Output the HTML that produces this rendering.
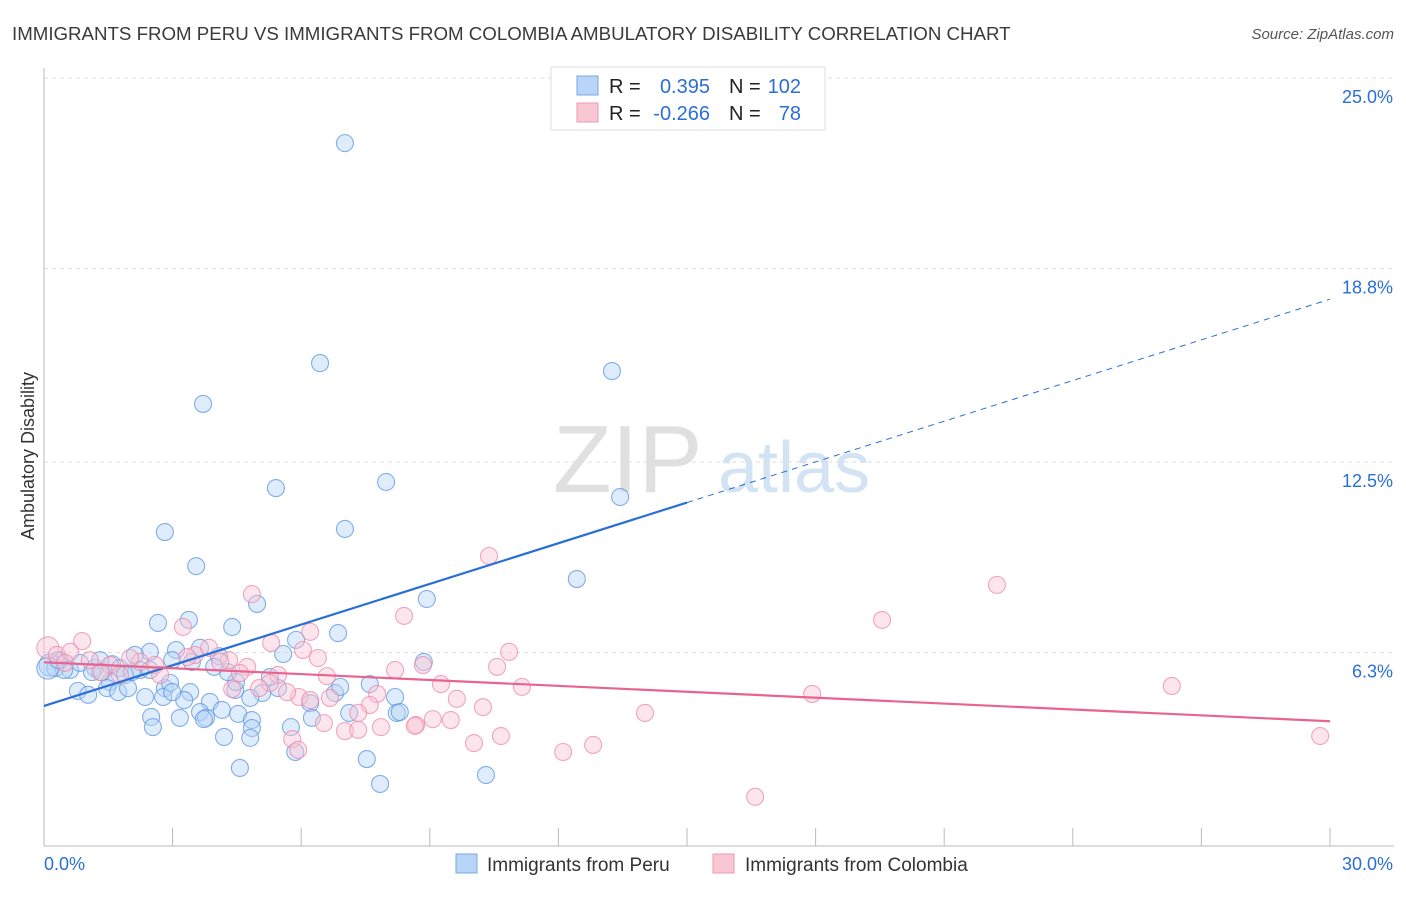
<!DOCTYPE html>
<html><head><meta charset="utf-8"><style>
body{margin:0;background:#fff;font-family:"Liberation Sans",sans-serif;}
svg text{font-family:"Liberation Sans",sans-serif;}
</style></head><body>
<svg id="chart" width="1406" height="892">
<text x="12" y="40" font-size="18.7" fill="#3a3a3a">IMMIGRANTS FROM PERU VS IMMIGRANTS FROM COLOMBIA AMBULATORY DISABILITY CORRELATION CHART</text>
<text x="1394" y="39" font-size="15" fill="#555" text-anchor="end" font-style="italic">Source: ZipAtlas.com</text>
<text x="34" y="456" font-size="18" fill="#333" text-anchor="middle" transform="rotate(-90 34 456)">Ambulatory Disability</text>
<text x="553" y="492" font-size="96" fill="#e0e0e0" font-family="Liberation Serif">ZIP</text>
<text x="718" y="492" font-size="72" fill="#d3e3f3">atlas</text>
<g id="grid"></g><g id="axes"></g><g id="pts"></g><g id="trend"></g>
<g>
<rect x="551" y="67" width="274" height="63" fill="#fff" stroke="#ddd"/>
<rect x="577" y="76" width="21" height="19" fill="#b8d4f6" stroke="#7aa8e0"/>
<rect x="577" y="103" width="21" height="19" fill="#f9c6d4" stroke="#ee9ab2"/>
<text x="609" y="93" font-size="20" fill="#222">R = </text><text x="710" y="93" font-size="20" fill="#2a6fd6" text-anchor="end">0.395</text>
<text x="729" y="93" font-size="20" fill="#222">N = </text><text x="801" y="93" font-size="20" fill="#2a6fd6" text-anchor="end">102</text>
<text x="609" y="120" font-size="20" fill="#222">R = </text><text x="710" y="120" font-size="20" fill="#2a6fd6" text-anchor="end">-0.266</text>
<text x="729" y="120" font-size="20" fill="#222">N = </text><text x="801" y="120" font-size="20" fill="#2a6fd6" text-anchor="end">78</text>
</g>
<g>
<rect x="456" y="854" width="21" height="19" fill="#b8d4f6" stroke="#7aa8e0"/>
<text x="487" y="871" font-size="19" fill="#333">Immigrants from Peru</text>
<rect x="713" y="854" width="21" height="19" fill="#f9c6d4" stroke="#ee9ab2"/>
<text x="745" y="871" font-size="19" fill="#333">Immigrants from Colombia</text>
</g>
</svg>
<script>
const yTicks=[25.0,18.8,12.5,6.3];
const yTickLabels=["25.0%","18.8%","12.5%","6.3%"];
const xTickLabels=["0.0%","30.0%"];
const peruPx=[[345,143],[320,363],[612,371],[203,404],[276,488],[386,482],[620,497],[345,529],[165,532],[196,566],[577,579],[257,604],[427,599],[158,623],[189,620],[232,627],[338,633],[296,640],[424,662],[283,654],[150,652],[176,650],[200,648],[219,656],[192,662],[172,660],[135,655],[112,664],[95,668],[60,660],[50,665],[70,670],[80,663],[100,660],[120,668],[140,670],[125,675],[110,682],[92,672],[55,668],[78,691],[88,695],[107,688],[118,692],[128,688],[165,688],[190,692],[170,683],[145,697],[163,697],[184,700],[210,702],[222,710],[200,712],[235,690],[262,693],[278,688],[236,682],[228,672],[270,677],[310,703],[335,693],[340,687],[370,684],[395,697],[397,713],[349,713],[312,718],[151,717],[153,727],[180,718],[206,718],[238,714],[252,720],[252,728],[291,727],[204,719],[224,737],[250,738],[295,752],[367,759],[240,768],[380,784],[486,775],[400,712],[250,698],[214,667],[132,672],[102,672],[64,670],[48,668],[58,660],[150,670],[172,692]];
const colPx=[[489,556],[997,585],[252,594],[882,620],[404,616],[183,627],[310,632],[82,641],[271,643],[509,652],[209,648],[303,650],[318,658],[229,660],[247,667],[423,665],[497,667],[395,670],[327,676],[278,675],[270,683],[441,684],[522,687],[377,694],[457,699],[1172,686],[812,694],[232,689],[259,688],[299,697],[287,692],[370,705],[358,713],[483,707],[645,713],[324,723],[381,727],[416,725],[433,719],[451,720],[345,731],[415,726],[358,730],[474,743],[501,736],[563,752],[593,745],[292,739],[298,750],[755,797],[1320,736],[48,648],[57,655],[70,652],[90,660],[110,665],[140,662],[155,665],[130,658],[100,672],[160,675],[195,655],[220,662],[240,673],[187,657],[120,675],[65,663],[330,698],[310,700]];
const peruX=peruPx.map(p=>+((p[0]-44)*30/1286).toFixed(2));
const peruY=peruPx.map(p=>+((846-p[1])/30.72).toFixed(2));
const colX=colPx.map(p=>+((p[0]-44)*30/1286).toFixed(2));
const colY=colPx.map(p=>+((846-p[1])/30.72).toFixed(2));
const peruTrend=[4.56,17.8];const colTrend=[5.98,4.06];
const X=v=>44+v/30*1286, Y=v=>846-v*30.72;
const NS="http://www.w3.org/2000/svg";
function mk(tag,attrs,parent){const e=document.createElementNS(NS,tag);for(const k in attrs)e.setAttribute(k,attrs[k]);parent.appendChild(e);return e;}
const grid=document.getElementById('grid'),axes=document.getElementById('axes'),pts=document.getElementById('pts'),tr=document.getElementById('trend');
yTicks.forEach((t,i)=>{
 const l=mk('line',{x1:44,x2:1394,y1:Y(t),y2:Y(t),stroke:'#ddd','stroke-dasharray':'4,4'},grid);
 
 
 const tx=mk('text',{x:1393,y:Y(t)+25,'font-size':18,fill:'#2a6fd6','text-anchor':'end'},axes);
 tx.textContent=yTickLabels[i];
 
 
});
const ax=mk('line',{x1:44,x2:44,y1:68,y2:846,stroke:'#bbb'},axes);


const bx=mk('line',{x1:44,x2:1394,y1:846,y2:846,stroke:'#bbb'},axes);


for(let i=1;i<=10;i++){const t=mk('line',{x1:X(i*3),x2:X(i*3),y1:828,y2:846,stroke:'#bbb'},axes);
 
 }
[[0,44,'start'],[30,1393,'end']].forEach((d,i)=>{const t=mk('text',{x:d[1],y:870,'font-size':18,fill:'#2a6fd6','text-anchor':d[2]},axes);t.textContent=xTickLabels[i];
 
 });
function dots(xs,ys,fill,stroke,name){xs.forEach((x,i)=>{const c=mk('circle',{cx:X(x),cy:Y(ys[i]),r:(x<0.2?11:8.5),fill:fill,'fill-opacity':0.45,stroke:stroke,'stroke-opacity':0.75,'stroke-width':1.1},pts);
 
 });}
dots(peruX,peruY,'#b8d4f6','#5b95e0','point-peru');
dots(colX,colY,'#f9c6d4','#ec8aa8','point-colombia');
const xm=15;
const pm=peruTrend[0]+(peruTrend[1]-peruTrend[0])*xm/30;
const l1=mk('line',{x1:X(0),y1:Y(peruTrend[0]),x2:X(xm),y2:Y(pm),stroke:'#2a6fd6','stroke-width':2.2},tr);


const l2=mk('line',{x1:X(xm),y1:Y(pm),x2:X(30),y2:Y(peruTrend[1]),stroke:'#2a6fd6','stroke-width':1,'stroke-dasharray':'6,5'},tr);


const l3=mk('line',{x1:X(0),y1:Y(colTrend[0]),x2:X(30),y2:Y(colTrend[1]),stroke:'#e8648e','stroke-width':2.2},tr);


</script>
</body></html>
